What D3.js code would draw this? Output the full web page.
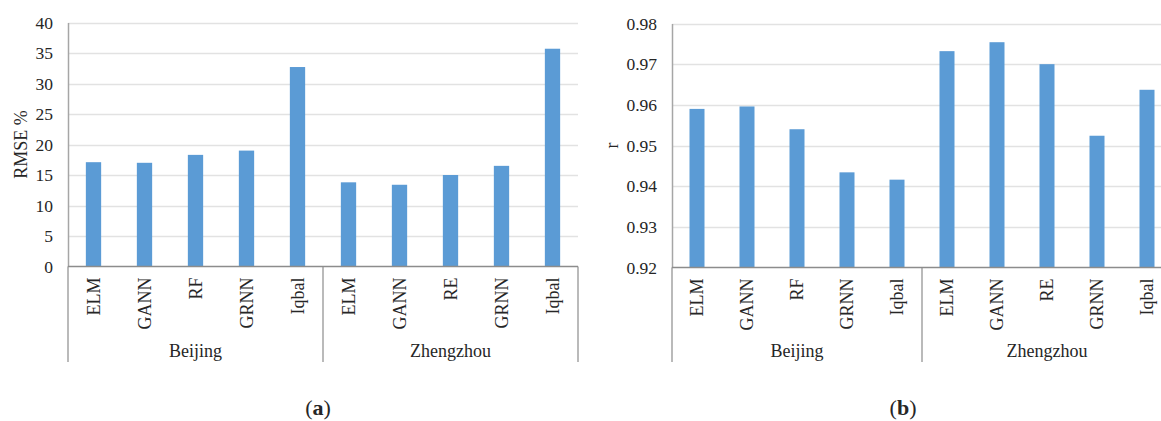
<!DOCTYPE html>
<html>
<head>
<meta charset="utf-8">
<script src="https://cdn.jsdelivr.net/npm/d3@7"></script>
<style>
html,body{margin:0;padding:0;background:#fff;}
svg{display:block;}
text{font-family:"Liberation Serif","Times New Roman",serif;fill:#262626;}
</style>
</head>
<body>
<svg id="c" width="1161" height="421"></svg>
<script>
const groups = ["Beijing", "Zhengzhou"];
const modelsBeijing = ["ELM", "GANN", "RF", "GRNN", "Iqbal"];
const modelsZhengzhou = ["ELM", "GANN", "RE", "GRNN", "Iqbal"];
const rmseBeijing = [17.1, 17.0, 18.3, 19.0, 32.7];
const rmseZhengzhou = [13.8, 13.4, 15.0, 16.5, 35.7];
const rBeijing = [0.9590, 0.9596, 0.9540, 0.9434, 0.9416];
const rZhengzhou = [0.9732, 0.9754, 0.9700, 0.9524, 0.9637];
const rmseTicks = [0, 5, 10, 15, 20, 25, 30, 35, 40];
const rTicks = [0.92, 0.93, 0.94, 0.95, 0.96, 0.97, 0.98];

const svg = d3.select("#c");
const barColor = "#5b9bd5";

function panel(cfg) {
  const rows = [];
  groups.forEach((g, gi) => {
    const ms = gi === 0 ? modelsBeijing : modelsZhengzhou;
    const vs = gi === 0 ? cfg.vals[0] : cfg.vals[1];
    ms.forEach((m, i) => rows.push({key: g + "-" + i, group: g, model: m, value: vs[i]}));
  });
  const x = d3.scaleBand().domain(rows.map(d => d.key))
    .range([cfg.x0, cfg.x1]).paddingInner(0.7).paddingOuter(0.35);
  const y = d3.scaleLinear().domain(cfg.domain).range([cfg.yb, cfg.yt]);
  const g = svg.append("g");

  g.selectAll("line.grid").data(cfg.ticks.slice(1)).join("line")
    .attr("x1", cfg.x0).attr("x2", cfg.gridEnd)
    .attr("y1", d => Math.round(y(d)) + 0.5).attr("y2", d => Math.round(y(d)) + 0.5)
    .attr("stroke", "#e2e2e2").attr("stroke-width", 1.3);

  g.selectAll("rect.bar").data(rows).join("rect")
    .attr("x", d => x(d.key)).attr("width", x.bandwidth())
    .attr("y", d => y(d.value)).attr("height", d => y(cfg.domain[0]) - y(d.value))
    .attr("fill", barColor);

  const ya = d3.axisLeft(y).tickValues(cfg.ticks).tickSize(0).tickPadding(cfg.tickPad)
    .tickFormat(cfg.fmt);
  const yg = g.append("g").attr("transform", `translate(${cfg.x0},0)`).call(ya);
  yg.select(".domain").attr("stroke", "#a6a6a6").attr("stroke-width", 1.5);
  yg.selectAll("text").attr("font-size", 17.5).attr("font-family", "Liberation Serif").attr("fill", "#262626");

  g.append("line").attr("x1", cfg.x0).attr("x2", cfg.gridEnd)
    .attr("y1", cfg.yb).attr("y2", cfg.yb).attr("stroke", "#8c8c8c").attr("stroke-width", 1.5);

  g.selectAll("text.cat").data(rows).join("text")
    .attr("transform", d => `translate(${x(d.key) + x.bandwidth() / 2},${cfg.yb + 11}) rotate(-90)`)
    .attr("text-anchor", "end").attr("dy", "0.35em")
    .attr("font-size", 18).text(d => d.model);

  const step = x.step();
  const bounds = [cfg.x0, cfg.x0 + step * 5, cfg.x0 + step * 10];
  g.selectAll("line.div").data(bounds.filter(b => b <= 1161)).join("line")
    .attr("x1", d => d).attr("x2", d => d)
    .attr("y1", cfg.yb).attr("y2", 362)
    .attr("stroke", "#8c8c8c").attr("stroke-width", 1.2);
  g.selectAll("text.grp").data(groups).join("text")
    .attr("x", (d, i) => (bounds[i] + bounds[i + 1]) / 2).attr("y", 357)
    .attr("text-anchor", "middle").attr("font-size", 18).text(d => d);

  g.append("text")
    .attr("transform", `translate(${cfg.titleX},${(cfg.yb + cfg.yt) / 2}) rotate(-90)`)
    .attr("text-anchor", "middle").attr("dy", "0.35em").attr("font-size", 18).text(cfg.title);

  const cap = g.append("text").attr("x", cfg.capX).attr("y", 415).attr("text-anchor", "middle")
    .attr("font-size", 22).attr("fill", "#000");
  cap.append("tspan").text("(");
  cap.append("tspan").attr("font-weight", "bold").text(cfg.cap);
  cap.append("tspan").text(")");
}

panel({vals: [rmseBeijing, rmseZhengzhou], domain: [0, 40], ticks: rmseTicks,
  x0: 68, x1: 578, gridEnd: 578, yb: 266.5, yt: 22.5, fmt: d3.format("d"), tickPad: 15,
  title: "RMSE %", titleX: 21, capX: 318, cap: "a"});
panel({vals: [rBeijing, rZhengzhou], domain: [0.92, 0.98], ticks: rTicks,
  x0: 672, x1: 1172, gridEnd: 1161, yb: 267.5, yt: 23.5, fmt: d3.format(".2f"), tickPad: 15,
  title: "r", titleX: 612, capX: 903, cap: "b"});
</script>
</body>
</html>
